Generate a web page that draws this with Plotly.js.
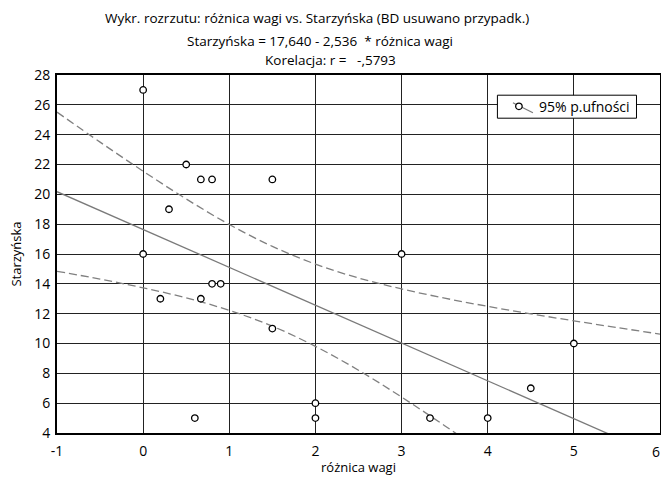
<!DOCTYPE html>
<html>
<head>
<meta charset="utf-8">
<script src="https://cdn.plot.ly/plotly-3.0.1.min.js"></script>
<style>html,body{margin:0;padding:0;background:#fff;}#chart{width:661px;height:479px;}</style>
</head>
<body>
<div id="chart"></div>
<script>
// Data
const roznicaWagi = [0, 0, 0.5, 0.67, 0.8, 1.5, 0.3, 0.2, 0.67, 0.8, 0.9, 1.5, 0.6, 2, 2, 3, 3.33, 4, 4.5, 5];
const starzynska  = [27, 16, 22, 21, 21, 21, 19, 13, 13, 14, 14, 11, 5, 6, 5, 16, 5, 5, 7, 10];

// Regression line (coefficients from the title) and 95% confidence band
const regX = [-1, 6];
const regIntercept = 17.640;
const regSlope = -2.536;
const bandX     = [-1, -0.5, 0, 0.5, 1, 1.5, 2, 2.5, 3, 3.5, 4, 4.5, 5, 5.5, 6];
const bandUpper = [25.51, 23.50, 21.55, 19.69, 17.98, 16.51, 15.32, 14.39, 13.66, 13.04, 12.49, 11.99, 11.52, 11.07, 10.63];
const bandLower = [14.84, 14.32, 13.73, 13.06, 12.22, 11.16, 9.81, 8.21, 6.41, 4.49, 2.50, 0.47, -1.60, -3.68, -5.78];

const xTicks = [-1, 0, 1, 2, 3, 4, 5, 6];
const xTickText = ['-1', '0', '1', '2', '3', '4', '5', '6'];
const yTicks = [4, 6, 8, 10, 12, 14, 16, 18, 20, 22, 24, 26, 28];

const titleLines = [
  'Wykr. rozrzutu: różnica wagi vs. Starzyńska (BD usuwano przypadk.)',
  'Starzyńska = 17,640 - 2,536&nbsp;&nbsp;* różnica wagi',
  'Korelacja: r =&nbsp;&nbsp;&nbsp;-,5793'
];
const legendName = '95% p.ufności';

const FONT = 'Open Sans, Noto Sans, DejaVu Sans, sans-serif';

const plotL = 57.3, plotR = 660, plotT = 75.3, plotB = 433.3;
const W = 661, H = 479;
const px2x = p => (p - plotL) / (plotR - plotL);
const px2y = p => (plotB - p) / (plotB - plotT);

const markerStyle = {symbol: 'circle', size: 6.5, color: '#fff', line: {color: '#000', width: 1.3}};

const traces = [
  {x: bandX, y: bandUpper, mode: 'lines', line: {color: '#808080', width: 1.3, dash: '8px,4px', shape: 'spline'}, showlegend: false, hoverinfo: 'skip'},
  {x: bandX, y: bandLower, mode: 'lines', line: {color: '#808080', width: 1.3, dash: '8px,4px', shape: 'spline'}, showlegend: false, hoverinfo: 'skip'},
  {x: regX, y: regX.map(v => regIntercept + regSlope * v), mode: 'lines', line: {color: '#7a7a7a', width: 1.3}, showlegend: false, hoverinfo: 'skip'},
  {x: roznicaWagi, y: starzynska, mode: 'markers', name: legendName, marker: markerStyle, cliponaxis: false, showlegend: true}
];

const ys = [18, 41, 60];
const xs = [317, 320, 331];
const annotations = titleLines.map((t, i) => ({
  text: t, showarrow: false, xref: 'paper', yref: 'paper',
  x: px2x(xs[i]), y: px2y(ys[i]),
  xanchor: 'center', yanchor: 'middle',
  font: {family: FONT, size: 13.5, color: '#000'}
}));
// the last x tick label, kept inside the page at the right edge
annotations.push({text: xTickText[xTickText.length - 1], showarrow: false, xref: 'paper', yref: 'paper',
  x: px2x(660.5), y: px2y(451.5), xanchor: 'right', yanchor: 'middle', borderpad: 0,
  font: {family: FONT, size: 14, color: '#000'}});

const shapes = [
  // legend box
  {type: 'rect', xref: 'paper', yref: 'paper', x0: px2x(497.5), x1: px2x(636.5), y0: px2y(95.5), y1: px2y(118.5),
   fillcolor: '#fff', line: {color: '#000', width: 1}, layer: 'above'},
  // legend symbol line (diagonal)
  {type: 'line', xref: 'paper', yref: 'paper', x0: px2x(513), x1: px2x(533), y0: px2y(103), y1: px2y(113),
   line: {color: '#7a7a7a', width: 1.2}, layer: 'above'}
];

const layout = {
  width: W, height: H,
  margin: {l: plotL, r: W - plotR, t: plotT, b: H - plotB, pad: 0},
  paper_bgcolor: '#fff', plot_bgcolor: '#fff',
  font: {family: FONT, color: '#000'},
  showlegend: true,
  legend: {x: px2x(499), y: px2y(107), xanchor: 'left', yanchor: 'middle',
           bgcolor: 'rgba(0,0,0,0)', borderwidth: 0, font: {family: FONT, size: 14, color: '#000'},
           itemwidth: 30},
  annotations: annotations,
  shapes: shapes,
  xaxis: {range: [-1, 6], tickmode: 'array', tickvals: xTicks.slice(0, -1), ticktext: xTickText.slice(0, -1),
          showgrid: true, gridcolor: '#222', gridwidth: 1, zeroline: false,
          showline: true, linecolor: '#000', linewidth: 2, mirror: true, ticks: '',
          ticklabelstandoff: 4,
          tickfont: {family: FONT, size: 14, color: '#000'},
          title: {text: 'różnica wagi', font: {family: FONT, size: 13, color: '#000'}, standoff: 4}},
  yaxis: {range: [4, 28], tickmode: 'array', tickvals: yTicks,
          showgrid: true, gridcolor: '#222', gridwidth: 1, zeroline: false,
          showline: true, linecolor: '#000', linewidth: 2, mirror: true, ticks: '',
          ticklabelstandoff: 2,
          tickfont: {family: FONT, size: 14, color: '#000'},
          title: {text: 'Starzyńska', font: {family: FONT, size: 13, color: '#000'}, standoff: 10}}
};

Plotly.newPlot('chart', traces, layout, {displayModeBar: false, staticPlot: true});
</script>
</body>
</html>
